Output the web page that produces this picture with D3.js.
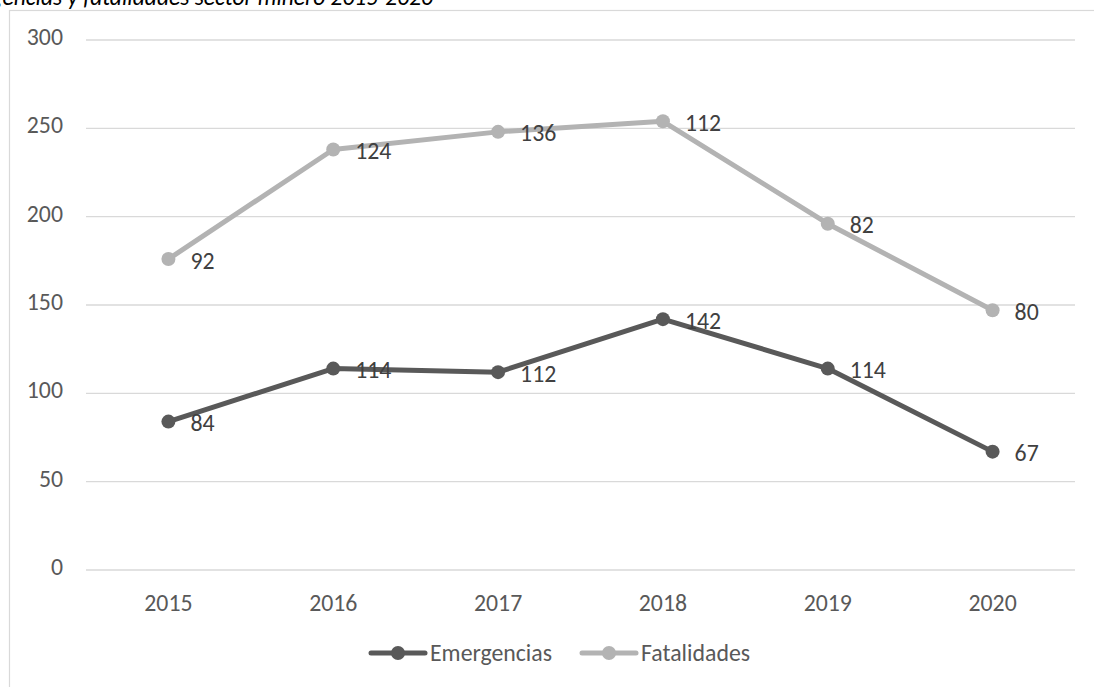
<!DOCTYPE html>
<html>
<head>
<meta charset="utf-8">
<script src="https://cdn.jsdelivr.net/npm/d3@7"></script>
<style>
  html, body { margin: 0; padding: 0; background: #fff; }
  svg { display: block; font-family: Carlito, Lato, "Liberation Sans", sans-serif; }
</style>
</head>
<body>
<svg id="chart" width="1094" height="687"></svg>
<script>
// Annual figures for the mining sector
const years = ["2015", "2016", "2017", "2018", "2019", "2020"];
const emergencias = [84, 114, 112, 142, 114, 67];
const fatalidades = [92, 124, 136, 112, 82, 80];
const yTicks = [0, 50, 100, 150, 200, 250, 300];
const seriesNames = ["Emergencias", "Fatalidades"];
const seriesColors = ["#595959", "#b3b3b3"];

const svg = d3.select("#chart");
const W = 1094, H = 687;
const plot = { left: 86, right: 1075, top: 40, bottom: 570 };
const FS = 23.8;

// Chart frame
svg.append("rect")
  .attr("x", 9.5).attr("y", 10.5)
  .attr("width", W + 20).attr("height", H + 20)
  .attr("fill", "#fff").attr("stroke", "#d9d9d9").attr("stroke-width", 1.2);

// Title
svg.append("text")
  .attr("x", 433).attr("y", 5)
  .attr("text-anchor", "end")
  .attr("font-style", "italic")
  .attr("font-size", 23.5)
  .attr("fill", "#000")
  .text("Emergencias y fatalidades sector minero 2015-2020");

const x = d3.scaleBand().domain(years).range([plot.left, plot.right]);
const y = d3.scaleLinear().domain([0, 300]).range([plot.bottom, plot.top]);

// Gridlines
svg.append("g").selectAll("line").data(yTicks).join("line")
  .attr("x1", plot.left).attr("x2", plot.right)
  .attr("y1", d => y(d)).attr("y2", d => y(d))
  .attr("stroke", "#d9d9d9").attr("stroke-width", 1.4);

// Y axis labels
const yAxis = d3.axisLeft(y).tickValues(yTicks).tickSize(0).tickPadding(0);
const gy = svg.append("g").attr("transform", `translate(63,0)`).call(yAxis);
gy.select(".domain").remove();
gy.selectAll("text").attr("font-size", FS).attr("fill", "#595959")
  .attr("font-family", "Carlito, Lato, sans-serif")
  .attr("dy", null).attr("y", 4.5);

// X axis labels
const xAxis = d3.axisBottom(x).tickSize(0).tickPadding(0);
const gx = svg.append("g").attr("transform", `translate(0,${plot.bottom})`).call(xAxis);
gx.select(".domain").remove();
gx.selectAll("text").attr("font-size", FS).attr("fill", "#595959")
  .attr("font-family", "Carlito, Lato, sans-serif")
  .attr("dy", null).attr("y", 41);

// Stacked series: the second line sits on top of the first
const stackedTop = fatalidades.map((v, i) => v + emergencias[i]);
const series = [
  { name: seriesNames[0], color: seriesColors[0], values: emergencias, pos: emergencias },
  { name: seriesNames[1], color: seriesColors[1], values: fatalidades, pos: stackedTop }
];
const cx = d => x(d) + x.bandwidth() / 2;

const line = d3.line().x(d => cx(d.year)).y(d => y(d.v));

series.forEach(s => {
  const pts = years.map((yr, i) => ({ year: yr, v: s.pos[i], label: s.values[i] }));
  const g = svg.append("g");
  g.append("path").datum(pts)
    .attr("d", line).attr("fill", "none")
    .attr("stroke", s.color).attr("stroke-width", 5)
    .attr("stroke-linejoin", "round").attr("stroke-linecap", "round");
  g.selectAll("circle").data(pts).join("circle")
    .attr("cx", d => cx(d.year)).attr("cy", d => y(d.v)).attr("r", 7)
    .attr("fill", s.color);
  g.selectAll("text").data(pts).join("text")
    .attr("x", d => cx(d.year) + 22).attr("y", d => y(d.v) + 9.5)
    .attr("font-size", FS).attr("fill", "#404040")
    .text(d => d.label);
});

// Legend
const legend = svg.append("g").attr("transform", "translate(0,653)");
const legendX = [371, 582];
series.forEach((s, i) => {
  const lx = legendX[i];
  legend.append("line")
    .attr("x1", lx).attr("x2", lx + 54).attr("y1", 0).attr("y2", 0)
    .attr("stroke", s.color).attr("stroke-width", 5).attr("stroke-linecap", "round");
  legend.append("circle").attr("cx", lx + 27).attr("cy", 0).attr("r", 7).attr("fill", s.color);
  legend.append("text").attr("x", lx + 59).attr("y", 8)
    .attr("font-size", FS).attr("fill", "#595959").text(s.name);
});
</script>
</body>
</html>
